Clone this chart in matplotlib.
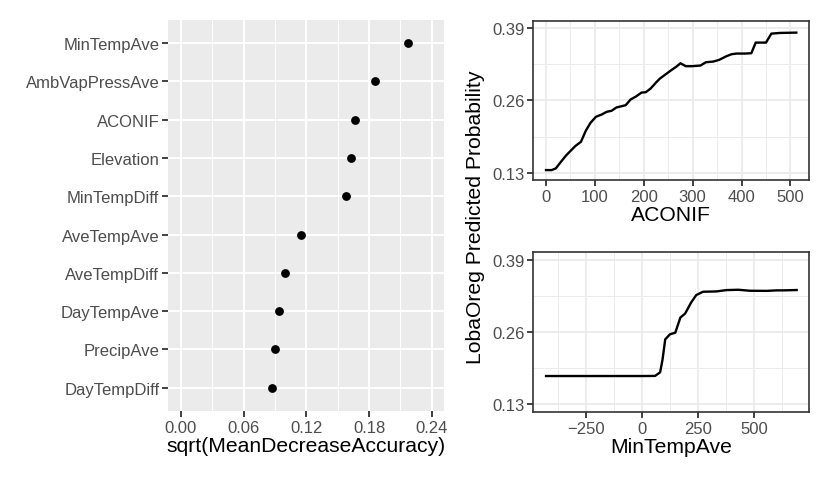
import matplotlib
matplotlib.use("Agg")
import matplotlib.pyplot as plt
from matplotlib.ticker import FixedLocator

plt.rcParams['font.family'] = ['Liberation Sans', 'DejaVu Sans']

# ---- data ----
variables = ["DayTempDiff", "PrecipAve", "DayTempAve", "AveTempDiff", "AveTempAve",
             "MinTempDiff", "Elevation", "ACONIF", "AmbVapPressAve", "MinTempAve"]
importance = [0.0872, 0.0898, 0.0940, 0.0997, 0.1147,
              0.1575, 0.1623, 0.1668, 0.1860, 0.2177]
imp_ticks = [0.00, 0.06, 0.12, 0.18, 0.24]
imp_ticklabels = ["0.00", "0.06", "0.12", "0.18", "0.24"]

aconif_x = [0, 11.6, 20, 30.7, 41, 51, 60, 71.5, 81.7, 91, 102, 114, 124, 134, 144, 163,
            173, 184, 195.5, 204, 214, 225, 233, 245, 257, 267, 275, 286, 298, 316, 327,
            342, 354, 369, 379.5, 390, 407, 420, 429, 450, 461, 478, 512]
aconif_y = [0.1348, 0.1348, 0.1378, 0.1498, 0.1610, 0.1700, 0.1780, 0.1856, 0.2060,
            0.2196, 0.2304, 0.2346, 0.2394, 0.2412, 0.2472, 0.2513, 0.2615, 0.2669,
            0.2740, 0.2746, 0.2812, 0.2920, 0.2991, 0.3069, 0.3147, 0.3207, 0.3266,
            0.3213, 0.3213, 0.3225, 0.3284, 0.3296, 0.3326, 0.3392, 0.3428, 0.3440,
            0.3440, 0.3446, 0.3637, 0.3637, 0.3798, 0.3810, 0.3816]

mintemp_x = [-429, -200, 0, 58.7, 81.3, 92, 104, 125, 149, 171.7, 193, 220, 242.5, 272.6,
             333, 378, 430.7, 483, 558, 602, 632, 692]
mintemp_y = [0.1810, 0.1810, 0.1810, 0.1812, 0.1877, 0.2106, 0.2468, 0.2558, 0.2588,
             0.2859, 0.2931, 0.3130, 0.3262, 0.3322, 0.3328, 0.3352, 0.3358, 0.3340,
             0.3338, 0.3347, 0.3347, 0.3353]

prob_ticks = [0.13, 0.26, 0.39]
prob_ticklabels = ["0.13", "0.26", "0.39"]
aconif_ticks = [0, 100, 200, 300, 400, 500]
mintemp_ticks = [-250, 0, 250, 500]
mintemp_ticklabels = ["\u2212250", "0", "250", "500"]

W, H = 830, 485
fig = plt.figure(figsize=(W / 100, H / 100), dpi=100)

def frac(x0, y0, x1, y1):
    return [x0 / W, 1 - y1 / H, (x1 - x0) / W, (y1 - y0) / H]

TICK_FS = 12
TITLE_FS = 15.2
TICK_COL = "#4D4D4D"
DARK = "#333333"

# ---- left: importance dot plot (theme_grey) ----
ax1 = fig.add_axes(frac(168.3, 21, 444.3, 411.7))
ax1.set_facecolor("#EBEBEB")
ypos = list(range(1, len(variables) + 1))
ax1.scatter(importance, ypos, s=40, color="black", zorder=3, linewidths=0)
ax1.set_xlim(-0.012, 0.252)
ax1.set_ylim(0.4, len(variables) + 0.6)
ax1.set_xticks(imp_ticks)
ax1.set_xticklabels(imp_ticklabels)
ax1.set_yticks(ypos)
ax1.set_yticklabels(variables)
ax1.xaxis.set_minor_locator(FixedLocator([0.03, 0.09, 0.15, 0.21]))
ax1.grid(which="major", color="white", linewidth=1.4, zorder=0)
ax1.grid(which="minor", axis="x", color="white", linewidth=0.7, zorder=0)
ax1.set_axisbelow(True)
for s in ax1.spines.values():
    s.set_visible(False)
ax1.tick_params(which="major", length=4, width=1.3, color=DARK, labelsize=TICK_FS,
                labelcolor=TICK_COL, pad=2.5)
ax1.tick_params(which="minor", length=0)
ax1.set_xlabel("sqrt(MeanDecreaseAccuracy)", fontsize=TITLE_FS, labelpad=1)

# ---- right panels (theme_bw) ----
def bw(ax):
    ax.set_facecolor("white")
    ax.grid(which="major", color="#EBEBEB", linewidth=1.3, zorder=0)
    ax.grid(which="minor", color="#EBEBEB", linewidth=0.7, zorder=0)
    ax.set_axisbelow(True)
    for s in ax.spines.values():
        s.set_color(DARK)
        s.set_linewidth(1.2)
    ax.tick_params(which="major", length=4, width=1.3, color=DARK, labelsize=TICK_FS,
                   labelcolor=TICK_COL, pad=2.5)
    ax.tick_params(which="minor", length=0)
    ax.set_ylim(0.117, 0.403)
    ax.set_yticks(prob_ticks)
    ax.set_yticklabels(prob_ticklabels)
    ax.yaxis.set_minor_locator(FixedLocator([0.195, 0.325]))

ax2 = fig.add_axes(frac(533.3, 21.7, 809, 181))
bw(ax2)
ax2.plot(aconif_x, aconif_y, color="black", linewidth=1.7, zorder=3)
ax2.set_xlim(-26, 538)
ax2.set_xticks(aconif_ticks)
ax2.xaxis.set_minor_locator(FixedLocator([50, 150, 250, 350, 450]))
ax2.set_xlabel("ACONIF", fontsize=TITLE_FS, labelpad=1)

ax3 = fig.add_axes(frac(533.3, 253.3, 809, 412.7))
bw(ax3)
ax3.plot(mintemp_x, mintemp_y, color="black", linewidth=1.7, zorder=3)
ax3.set_xlim(-486, 747)
ax3.set_xticks(mintemp_ticks)
ax3.set_xticklabels(mintemp_ticklabels)
ax3.xaxis.set_minor_locator(FixedLocator([-375, -125, 125, 375, 625]))
ax3.set_xlabel("MinTempAve", fontsize=TITLE_FS, labelpad=1)

fig.text(475 / W, 1 - 217 / H, "LobaOreg Predicted Probability", rotation=90,
         ha="center", va="center", fontsize=TITLE_FS)

fig.savefig("out.png", dpi=100)
